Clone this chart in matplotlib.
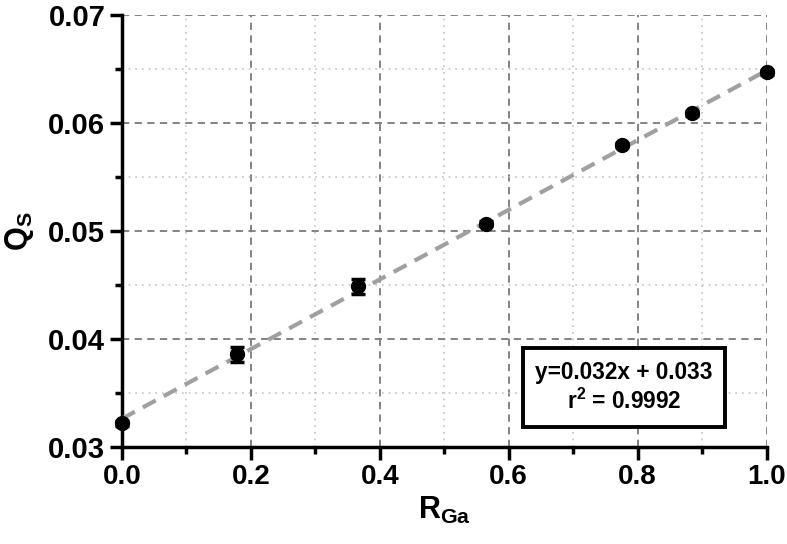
import numpy as np
import matplotlib
matplotlib.use("Agg")
import matplotlib.pyplot as plt
from matplotlib.ticker import MultipleLocator, FormatStrFormatter

plt.rcParams["font.family"] = ["Liberation Sans", "DejaVu Sans"]
plt.rcParams["font.weight"] = "bold"
plt.rcParams["mathtext.fontset"] = "custom"
plt.rcParams["mathtext.rm"] = "Liberation Sans:bold"
plt.rcParams["mathtext.bf"] = "Liberation Sans:bold"
plt.rcParams["mathtext.it"] = "Liberation Sans:bold"
plt.rcParams["mathtext.default"] = "bf"

# measured points
r_ga = [0.0, 0.179, 0.366, 0.565, 0.775, 0.885, 1.0]
q_s = [0.0322, 0.0386, 0.0449, 0.0507, 0.0580, 0.0609, 0.0647]
q_err = [0.0002, 0.0007, 0.0007, 0.0002, 0.0002, 0.0002, 0.0002]

fit_text = "y=0.032x + 0.033\nr$^2$ = 0.9992"

fig = plt.figure(figsize=(7.87, 5.44), dpi=100)
ax = fig.add_axes([0.155, 0.178, 0.819, 0.794])

# linear fit
slope, icpt = np.polyfit(r_ga, q_s, 1)
xf = np.array([0.0, 1.0])
ax.plot(xf, slope * xf + icpt, color="#a0a0a0", lw=3, ls=(0, (3.5, 2.2)), zorder=3)

ax.errorbar(r_ga, q_s, yerr=q_err, fmt="o", color="black", ms=10,
            ecolor="black", elinewidth=2.5, capsize=5, capthick=2.5,
            zorder=4, clip_on=False)

ax.set_xlim(0, 1.0)
ax.set_ylim(0.03, 0.07)
ax.xaxis.set_major_locator(MultipleLocator(0.2))
ax.xaxis.set_minor_locator(MultipleLocator(0.1))
ax.yaxis.set_major_locator(MultipleLocator(0.01))
ax.yaxis.set_minor_locator(MultipleLocator(0.005))
ax.xaxis.set_major_formatter(FormatStrFormatter("%.1f"))
ax.yaxis.set_major_formatter(FormatStrFormatter("%.2f"))

ax.grid(which="major", color="#7a7a7a", ls=(0, (4, 3)), lw=1.3)
ax.grid(which="minor", color="#c4c4c4", ls=(0, (1, 3)), lw=1.2)
ax.set_axisbelow(True)

for s in ["top", "right"]:
    ax.spines[s].set_visible(False)
for s in ["left", "bottom"]:
    ax.spines[s].set_linewidth(2.5)

ax.tick_params(which="major", length=9, width=2.5, labelsize=21, pad=3)
ax.tick_params(axis="x", which="major", labelsize=20)
ax.tick_params(which="minor", length=5, width=2.5)
for lab in ax.get_xticklabels() + ax.get_yticklabels():
    lab.set_fontweight("bold")

ax.set_xlabel("R$_{Ga}$", fontsize=22, fontweight="bold", labelpad=4)
ax.set_ylabel("Q$_S$", fontsize=22, fontweight="bold", labelpad=9)

ax.text(0.779, 0.138, fit_text, transform=ax.transAxes, ha="center", va="center",
        fontsize=16.3, fontweight="bold", linespacing=1.25, zorder=5,
        bbox=dict(boxstyle="square,pad=0.55", facecolor="white",
                  edgecolor="black", linewidth=2.8))

fig.savefig("out.png", dpi=100)
